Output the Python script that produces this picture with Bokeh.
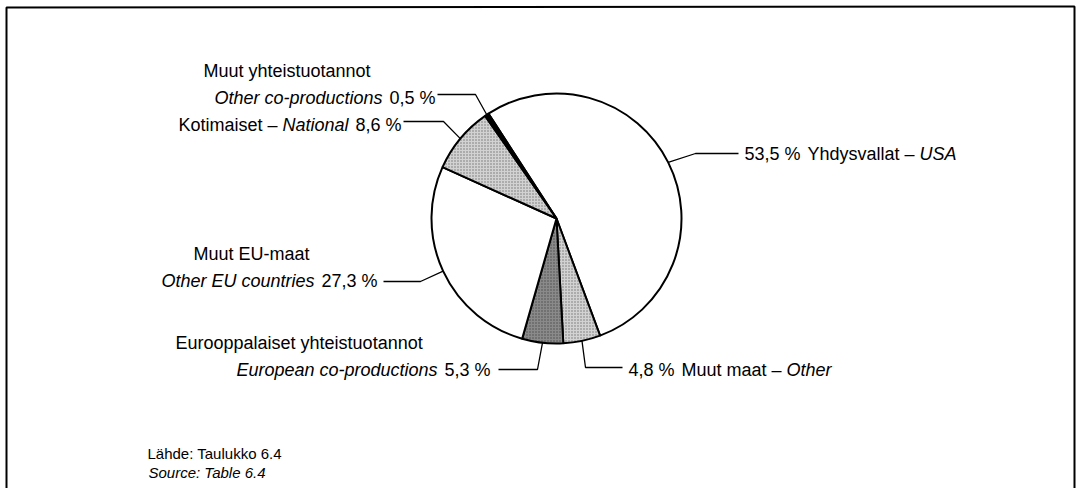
import math
from bokeh.plotting import figure
from bokeh.models import Range1d, ColumnDataSource
from bokeh.core.properties import value
from bokeh.embed import file_html
from bokeh.resources import INLINE

# ---- data ----
categories = ["Yhdysvallat – USA", "Muut maat – Other", "Eurooppalaiset yhteistuotannot",
              "Muut EU-maat", "Kotimaiset – National", "Muut yhteistuotannot"]
shares = [53.5, 4.8, 5.3, 27.3, 8.6, 0.5]
pct_labels = ["53,5 %", "4,8 %", "5,3 %", "27,3 %", "8,6 %", "0,5 %"]
fills = ["#ffffff", "#d2d2d2", "#8a8a8a", "#ffffff", "#d2d2d2", "#000000"]
hatches = ["blank", "dot", "dot", "blank", "dot", "blank"]

# ---- layout constants ----
W, H = 1076, 488
CX, CY, R = 556, 218, 125
START_CW = -33.0  # degrees clockwise from 12 o'clock where first slice begins
FONT = "Liberation Sans"
FSZ = 18
GAP = 7

# Liberation Sans advance widths (per 1000 em) for laying out mixed-style label pieces
AW = {" ": 278, ",": 278, ".": 278, "%": 889, "–": 556, "-": 333, ":": 278}
AW.update({d: 556 for d in "0123456789"})
AW.update(dict(a=556, b=556, c=500, d=556, e=556, f=278, g=556, h=556, i=222, j=222, k=500, l=222,
               m=833, n=556, o=556, p=556, q=556, r=333, s=500, t=278, u=556, v=500, w=722, x=500,
               y=500, z=500, ä=556))
AW.update(dict(A=667, B=667, C=722, D=722, E=667, F=611, G=778, H=722, I=278, J=500, K=667, L=556,
               M=833, N=722, O=778, P=667, R=722, S=667, T=611, U=722, V=667, Y=667))


def tw(s, size=FSZ):
    return sum(AW.get(ch, 556) for ch in s) * size / 1000.0


p = figure(width=W, height=H, x_range=Range1d(0, W), y_range=Range1d(H, 0),
           output_backend="svg", toolbar_location=None, min_border=0)
p.axis.visible = False
p.grid.visible = False
p.outline_line_color = None
p.background_fill_color = "white"

# frame (open at the bottom like the scanned original)
p.line(x=[6, 6, 1074, 1074], y=[H, 7, 6, H], line_color="black", line_width=2)

# wedges
total = sum(shares)
a0, starts, ends, mids = START_CW, [], [], []
for s in shares:
    a1 = a0 + 360.0 * s / total
    starts.append(math.radians(90 - a0))
    ends.append(math.radians(90 - a1))
    mids.append((a0 + a1) / 2)
    a0 = a1
src = ColumnDataSource(dict(cat=categories, start=starts, end=ends, fill=fills, hatch=hatches,
                            x=[CX] * len(shares), y=[CY] * len(shares)))
p.wedge(x="x", y="y", radius=R, radius_units="screen", start_angle="start", end_angle="end",
        direction="clock", fill_color="fill", hatch_pattern="hatch", hatch_color="#000000",
        hatch_alpha=0.45, hatch_scale=3, hatch_weight=1,
        line_color="black", line_width=2, source=src)

# leader lines: anchor on slice edge at its mid angle, then elbow, then end near label
elbows = [(695, 153), (585, 367), (537, 369), (420, 281), (443, 121), (475, 94)]
ends_pt = [(738, 153), (622, 367), (498, 369), (383, 281), (403, 121), (437, 94)]
for m, e, t in zip(mids, elbows, ends_pt):
    ax = CX + R * math.sin(math.radians(m))
    ay = CY - R * math.cos(math.radians(m))
    p.line(x=[ax, e[0], t[0]], y=[ay, e[1], t[1]], line_color="black", line_width=1.3)


def txt(x, y, s, style="normal", size=FSZ):
    p.text(x=[x], y=[y], text=[s], text_font=value(FONT), text_font_size=f"{size}px",
           text_font_style=style, text_align="left", text_baseline="middle", text_color="black")


def left_line(right_x, y, pieces):
    """pieces laid out right-to-left ending at right_x; each piece (text, style, gap_before)"""
    x = right_x
    for s, style, gap in reversed(pieces):
        x -= tw(s)
        txt(x, y, s, style)
        x -= gap


def right_line(left_x, y, pieces):
    x = left_x
    for s, style, gap in pieces:
        x += gap
        txt(x, y, s, style)
        x += tw(s)


# left-hand labels (end next to their leader line)
txt(203, 70, categories[5])
left_line(435, 97, [("Other co-productions", "italic", 0), (pct_labels[5], "normal", GAP)])
left_line(401, 124, [("Kotimaiset – ", "normal", 0), ("National", "italic", 0),
                     (pct_labels[4], "normal", GAP)])
txt(193, 253, categories[3])
left_line(377, 280, [("Other EU countries", "italic", 0), (pct_labels[3], "normal", GAP)])
txt(175, 342, categories[2])
left_line(490, 369, [("European co-productions", "italic", 0), (pct_labels[2], "normal", GAP)])

# right-hand labels (start after their leader line)
right_line(628, 369, [(pct_labels[1], "normal", 0), ("Muut maat – ", "normal", GAP),
                      ("Other", "italic", 0)])
right_line(744, 153, [(pct_labels[0], "normal", 0), ("Yhdysvallat – ", "normal", GAP),
                      ("USA", "italic", 0)])

# source note
txt(147, 453, "Lähde: Taulukko 6.4", "normal", 15)
txt(148, 472, "Source: Table 6.4", "italic", 15)

open("out.html", "w").write(file_html(p, INLINE))
